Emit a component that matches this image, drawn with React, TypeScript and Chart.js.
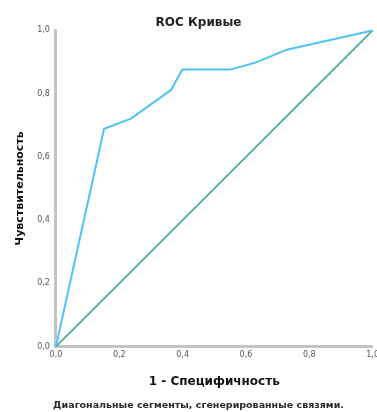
import React, { useEffect, useRef } from "react";
import { Chart, registerables } from "chart.js";

Chart.register(...registerables);

const fpr = [0, 0.152, 0.237, 0.364, 0.399, 0.549, 0.63, 0.729, 1];
const tpr = [0, 0.689, 0.721, 0.812, 0.876, 0.876, 0.898, 0.939, 1];
const refX = [0, 1];
const refY = [0, 1];
const tickValues = [0, 0.2, 0.4, 0.6, 0.8, 1.0];

const titleText = "ROC Кривые";
const xTitle = "1 - Специфичность";
const yTitle = "Чувствительность";
const footer = "Диагональные сегменты, сгенерированные связями.";

const fmt = (v: number) => v.toFixed(1).replace(".", ",");

export default function App() {
  const ref = useRef<HTMLCanvasElement | null>(null);
  useEffect(() => {
    if (!ref.current) return;
    const font = "'DejaVu Sans', Verdana, sans-serif";
    const chart = new Chart(ref.current, {
      type: "scatter",
      data: {
        datasets: [
          {
            label: "curve",
            data: fpr.map((x, i) => ({ x, y: tpr[i] })),
            showLine: true,
            borderColor: "#4cc3f2",
            borderWidth: 2,
            pointRadius: 0,
            tension: 0,
            clip: false as any,
          },
          {
            label: "ref",
            data: refX.map((x, i) => ({ x, y: refY[i] })),
            showLine: true,
            borderColor: "#3aa79b",
            borderWidth: 1.5,
            pointRadius: 0,
            clip: false as any,
          },
        ],
      },
      options: {
        responsive: false,
        animation: false,
        layout: { padding: { left: 14, right: 0, top: 10, bottom: 0 } },
        plugins: {
          legend: { display: false },
          tooltip: { enabled: false },
          title: {
            display: true,
            text: titleText,
            color: "#222",
            font: { family: font, size: 12, weight: "bold" },
            padding: { top: 6, bottom: 0 },
          },
          subtitle: {
            display: true,
            position: "bottom",
            text: footer,
            color: "#2a2a2a",
            font: { family: font, size: 9.5, weight: "bold" },
            padding: { top: 9, bottom: 1 },
          },
        },
        scales: {
          x: {
            type: "linear",
            min: 0,
            max: 1,
            afterBuildTicks: (s: any) => {
              s.ticks = tickValues.map((v) => ({ value: v }));
            },
            ticks: {
              callback: (v: any) => fmt(Number(v)),
              color: "#555",
              font: { family: font, size: 8 },
              padding: 4,
              maxRotation: 0,
            },
            grid: { display: false, drawTicks: false },
            border: { display: true, color: "#c4c4c4", width: 3 },
            title: {
              display: true,
              text: xTitle,
              color: "#111",
              font: { family: font, size: 12, weight: "bold" },
              padding: { top: 10, bottom: 2 },
            },
          },
          y: {
            type: "linear",
            min: 0,
            max: 1,
            afterBuildTicks: (s: any) => {
              s.ticks = tickValues.map((v) => ({ value: v }));
            },
            ticks: {
              callback: (v: any) => fmt(Number(v)),
              color: "#555",
              font: { family: font, size: 8 },
              padding: 6,
            },
            grid: { display: false, drawTicks: false },
            border: { display: true, color: "#c4c4c4", width: 3 },
            title: {
              display: true,
              text: yTitle,
              color: "#111",
              font: { family: font, size: 11, weight: "bold" },
              padding: { top: 0, bottom: 4 },
            },
          },
        },
      },
    });
    return () => chart.destroy();
  }, []);
  return (
    <div
      style={{
        position: "absolute",
        left: 0,
        top: 0,
        width: 377,
        height: 412,
        overflow: "hidden",
        background: "#fff",
      }}
    >
      <canvas ref={ref} width={383} height={412} style={{ display: "block" }} />
    </div>
  );
}
